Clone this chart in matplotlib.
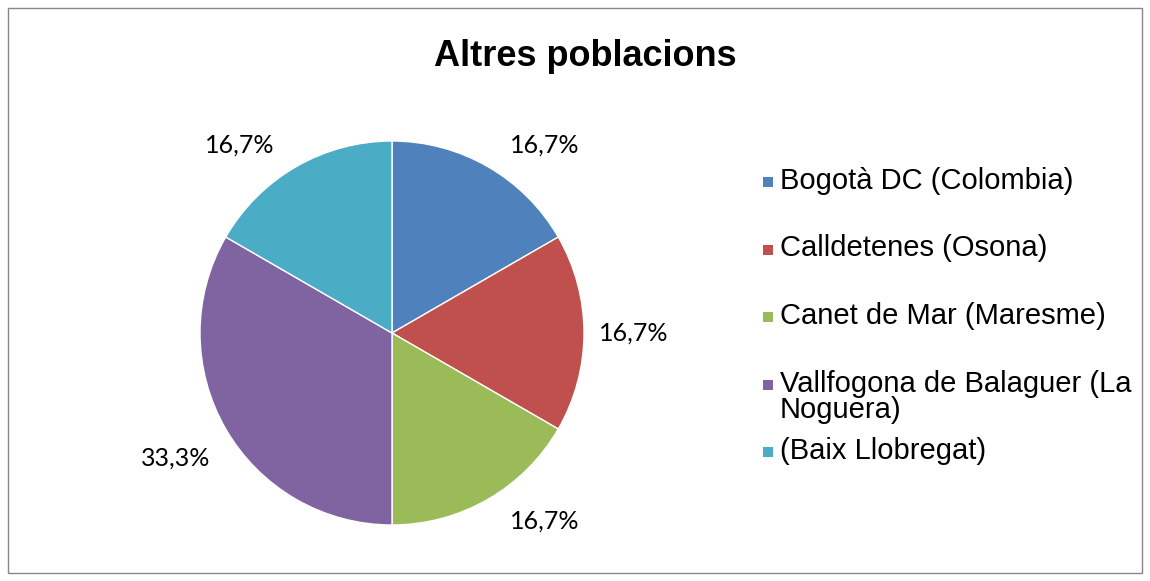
import numpy as np
import matplotlib.pyplot as plt
from matplotlib.patches import Rectangle

categories = ['Bogotà DC (Colombia)', 'Calldetenes (Osona)', 'Canet de Mar (Maresme)',
              'Vallfogona de Balaguer (La\nNoguera)', '(Baix Llobregat)']
values = [1, 1, 1, 2, 1]
colors = ['#4F81BD', '#C0504D', '#9BBB59', '#8064A2', '#4BACC6']

W, H = 1150, 581
fig = plt.figure(figsize=(W / 100, H / 100), dpi=100)

# frame around the chart
fig.patches.append(Rectangle((8 / W, 8 / H), 1134 / W, 565 / H, transform=fig.transFigure,
                             fill=False, edgecolor='#868686', linewidth=1))

fig.text(585 / W, 1 - 57 / H, 'Altres poblacions', ha='center', va='center',
         fontsize=26, fontweight='bold', family='Liberation Sans')

# pie: centre (392,333), radius 192 px
cx, cy, r = 392, 333, 192
ax = fig.add_axes([(cx - r) / W, 1 - (cy + r) / H, 2 * r / W, 2 * r / H])
wedges, texts, autotexts = ax.pie(values, colors=colors, startangle=90, counterclock=False,
                                  radius=1, pctdistance=1.27,
                                  autopct=lambda p: f'{p:.1f}%'.replace('.', ','),
                                  wedgeprops=dict(edgecolor='white', linewidth=1))
for w, t in zip(wedges, autotexts):
    mid = (w.theta1 + w.theta2) / 2 % 360
    span = abs(w.theta2 - w.theta1)
    # best-fit style: small slices get their label nudged toward the horizontal
    if mid < 90 or mid > 270:
        target = 0 if mid < 90 else 360
    else:
        target = 180
    if span < 90:
        ang = mid + np.clip(target - mid, -9, 9)
        d = 1.26
    else:
        ang = mid
        d = 1.3
    t.set_position((d * np.cos(np.radians(ang)), d * np.sin(np.radians(ang))))
    t.set_fontsize(18)
    t.set_family('Lato')
    t.set_color('#000000')
ax.set_xlim(-1, 1)
ax.set_ylim(-1, 1)
ax.set_aspect('equal')
ax.axis('off')

# legend
y0, step = 182, 67.5
for i, (lab, col) in enumerate(zip(categories, colors)):
    y = y0 + i * step
    fig.patches.append(Rectangle((763 / W, 1 - (y + 5) / H), 10 / W, 10 / H,
                                 transform=fig.transFigure, facecolor=col, edgecolor='none'))
    fig.text(780 / W, 1 - (y - 15) / H, lab, ha='left', va='top', fontsize=21,
             family='Liberation Sans', linespacing=0.95)

fig.savefig('out.png', dpi=100)
